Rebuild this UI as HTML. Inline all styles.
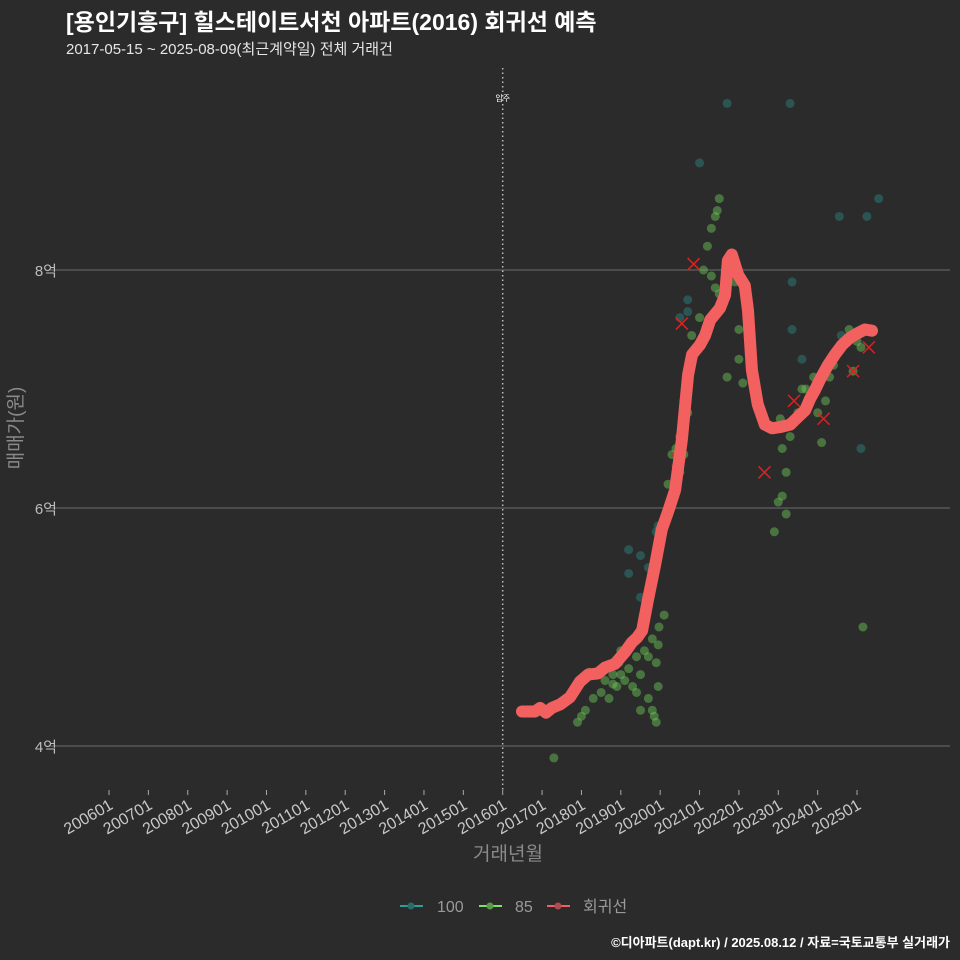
<!DOCTYPE html>
<html><head><meta charset="utf-8">
<style>
body{margin:0;background:#2b2b2b;}
svg{display:block;font-family:"Liberation Sans","Noto Sans CJK KR",sans-serif;}
</style></head>
<body>
<svg id="chart" width="960" height="960" xmlns="http://www.w3.org/2000/svg">
<rect width="960" height="960" fill="#2b2b2b"/>
<text x="66" y="30" fill="#ffffff" font-size="23" font-weight="bold">[용인기흥구] 힐스테이트서천 아파트(2016) 회귀선 예측</text>
<text x="66" y="54" fill="#e6e6e6" font-size="15">2017-05-15 ~ 2025-08-09(최근계약일) 전체 거래건</text>
<g id="grid"></g>
<g id="marks"></g>
<text transform="translate(22,428) rotate(-90)" fill="#8a8a8a" font-size="19" text-anchor="middle">매매가(원)</text>
<text x="508" y="860" fill="#8a8a8a" font-size="19" text-anchor="middle">거래년월</text>
<g font-size="16" fill="#9a9a9a">
  <g>
    <line x1="400" y1="906" x2="423" y2="906" stroke="#2aa198" stroke-width="2"/><circle cx="411" cy="906" r="3.5" fill="#2a6d6b"/>
    <text x="437" y="912">100</text></g>
  <g>
    <line x1="479" y1="906" x2="502" y2="906" stroke="#7fe06a" stroke-width="2"/><circle cx="490" cy="906" r="3.5" fill="#5a9a4a"/>
    <text x="515" y="912">85</text></g>
  <g>
    <line x1="547" y1="906" x2="570" y2="906" stroke="#f06060" stroke-width="2"/><circle cx="558" cy="906" r="3.5" fill="#b04a50"/>
    <text x="583" y="912">회귀선</text></g>
</g>
<text x="950" y="947" fill="#ffffff" font-size="13" font-weight="bold" text-anchor="end">©디아파트(dapt.kr) / 2025.08.12 / 자료=국토교통부 실거래가</text>
</svg>
<script>
const yTicks=[4,6,8];
const yTickLabels=["4억","6억","8억"];
const xTickYears=[2006,2007,2008,2009,2010,2011,2012,2013,2014,2015,2016,2017,2018,2019,2020,2021,2022,2023,2024,2025];
const xTickLabels=["200601","200701","200801","200901","201001","201101","201201","201301","201401","201501","201601","201701","201801","201901","202001","202101","202201","202301","202401","202501"];
const moveInYear=2016;
const lineT=[2016.49,2016.82,2016.95,2017.10,2017.25,2017.46,2017.71,2017.96,2018.17,2018.42,2018.60,2018.85,2019.11,2019.28,2019.41,2019.54,2019.69,2019.87,2020.04,2020.20,2020.38,2020.55,2020.71,2020.81,2021.01,2021.14,2021.27,2021.52,2021.65,2021.72,2021.82,2021.98,2022.15,2022.23,2022.33,2022.48,2022.66,2022.84,2023.04,2023.30,2023.55,2023.68,2023.81,2023.93,2024.06,2024.26,2024.44,2024.62,2024.82,2025.02,2025.20,2025.38];
const lineV=[4.29,4.29,4.32,4.28,4.32,4.35,4.41,4.54,4.60,4.61,4.66,4.69,4.79,4.87,4.91,4.97,5.23,5.52,5.82,5.97,6.15,6.57,7.12,7.29,7.37,7.45,7.58,7.68,7.79,8.08,8.13,7.96,7.87,7.66,7.16,6.87,6.70,6.67,6.68,6.70,6.78,6.82,6.92,6.99,7.08,7.20,7.29,7.37,7.43,7.47,7.50,7.49];
const g85T=[2017.3,2017.9,2018.0,2018.1,2018.2,2018.3,2018.5,2018.6,2018.7,2018.8,2018.8,2018.9,2018.95,2019.0,2019.0,2019.1,2019.2,2019.3,2019.4,2019.4,2019.5,2019.5,2019.6,2019.7,2019.7,2019.8,2019.8,2019.85,2019.9,2019.9,2019.95,2019.95,2019.97,2020.1,2020.2,2020.3,2020.4,2020.5,2020.5,2020.6,2020.6,2020.65,2020.7,2020.7,2020.75,2020.8,2021.0,2021.1,2021.2,2021.3,2021.3,2021.4,2021.4,2021.45,2021.5,2021.5,2021.5,2021.7,2021.9,2022.0,2022.0,2022.1,2022.9,2023.0,2023.05,2023.1,2023.1,2023.2,2023.2,2023.3,2023.35,2023.5,2023.6,2023.7,2023.8,2023.9,2024.0,2024.1,2024.2,2024.3,2024.4,2024.5,2024.6,2024.8,2024.9,2025.0,2025.1,2025.15];
const g85V=[3.9,4.2,4.25,4.3,4.62,4.4,4.45,4.55,4.4,4.6,4.52,4.5,4.7,4.6,4.8,4.55,4.65,4.5,4.75,4.45,4.6,4.3,4.8,4.4,4.75,4.3,4.9,4.25,4.2,4.7,4.5,4.85,5.0,5.1,6.2,6.45,6.5,6.6,6.3,6.9,6.45,7.0,7.1,6.8,7.2,7.45,7.6,8.0,8.2,8.35,7.95,8.45,7.85,8.5,8.6,7.8,7.7,7.1,7.9,7.5,7.25,7.05,5.8,6.05,6.75,6.5,6.1,6.3,5.95,6.6,6.7,6.8,7.0,7.0,6.9,7.1,6.8,6.55,6.9,7.1,7.2,7.3,7.35,7.5,7.15,7.4,7.35,5.0];
const g100T=[2019.2,2019.2,2019.5,2019.5,2019.7,2019.9,2019.95,2020.0,2020.5,2020.7,2020.7,2021.0,2021.7,2023.3,2023.35,2023.35,2023.6,2024.55,2024.6,2025.1,2025.25,2025.55];
const g100V=[5.65,5.45,5.6,5.25,5.5,5.8,5.85,5.8,7.6,7.75,7.65,8.9,9.4,9.4,7.9,7.5,7.25,8.45,7.45,6.5,8.45,8.6];
const outT=[2020.45,2020.55,2020.85,2022.65,2023.4,2024.15,2024.9,2025.3];
const outV=[6.4,7.55,8.05,6.3,6.9,6.75,7.15,7.35];

const NS="http://www.w3.org/2000/svg";
const xS=t=>109+(t-2006)*39.37;
const yS=v=>746-(v-4)*119;
function mk(tag,attrs,parent){const e=document.createElementNS(NS,tag);for(const k in attrs)e.setAttribute(k,attrs[k]);parent.appendChild(e);return e;}
const grid=document.getElementById('grid'),marks=document.getElementById('marks');
yTicks.forEach((v,i)=>{
  const l=mk('line',{x1:50,x2:950,y1:yS(v),y2:yS(v),stroke:'#6e6e6e','stroke-width':1},grid);
  
  
  const t=mk('text',{x:57,y:yS(v)+6,fill:'#bdbdbd','font-size':15,'text-anchor':'end'},grid);
  
  
  t.textContent=yTickLabels[i];
});
xTickYears.forEach((y,i)=>{
  const x=xS(y);
  const l=mk('line',{x1:x,x2:x,y1:790,y2:795,stroke:'#aaaaaa','stroke-width':1},grid);
  
  
  const t=mk('text',{transform:`translate(${x+5},${808}) rotate(-30)`,fill:'#c8c8c8','font-size':16,'text-anchor':'end'},grid);
  
  
  t.textContent=xTickLabels[i];
});
const mv=mk('line',{x1:xS(moveInYear),x2:xS(moveInYear),y1:68,y2:790,stroke:'#bbbbbb','stroke-width':1.5,'stroke-dasharray':'1.5,3'},grid);


const mvt=mk('text',{x:xS(moveInYear),y:101,fill:'#ffffff','font-size':8,'text-anchor':'middle'},grid);


mvt.textContent='입주';
g100T.forEach((t,i)=>{
  const c=mk('circle',{cx:xS(t),cy:yS(g100V[i]),r:4.5,fill:'#2a8a86','fill-opacity':0.45},marks);
  
  
});
g85T.forEach((t,i)=>{
  const c=mk('circle',{cx:xS(t),cy:yS(g85V[i]),r:4.5,fill:'#6fcf5a','fill-opacity':0.45},marks);
  
  
});
outT.forEach((t,i)=>{
  const x=xS(t),y=yS(outV[i]);
  const p=mk('path',{d:`M${x-6},${y-6}L${x+6},${y+6}M${x+6},${y-6}L${x-6},${y+6}`,stroke:'#e02020','stroke-width':1.5},marks);
  
  
});
const d=lineT.map((t,i)=>(i?'L':'M')+xS(t).toFixed(1)+','+yS(lineV[i]).toFixed(1)).join('');
const rl=mk('path',{d:d,fill:'none',stroke:'#f26060','stroke-width':12,'stroke-linejoin':'round','stroke-linecap':'round'},marks);


</script>
</body></html>
